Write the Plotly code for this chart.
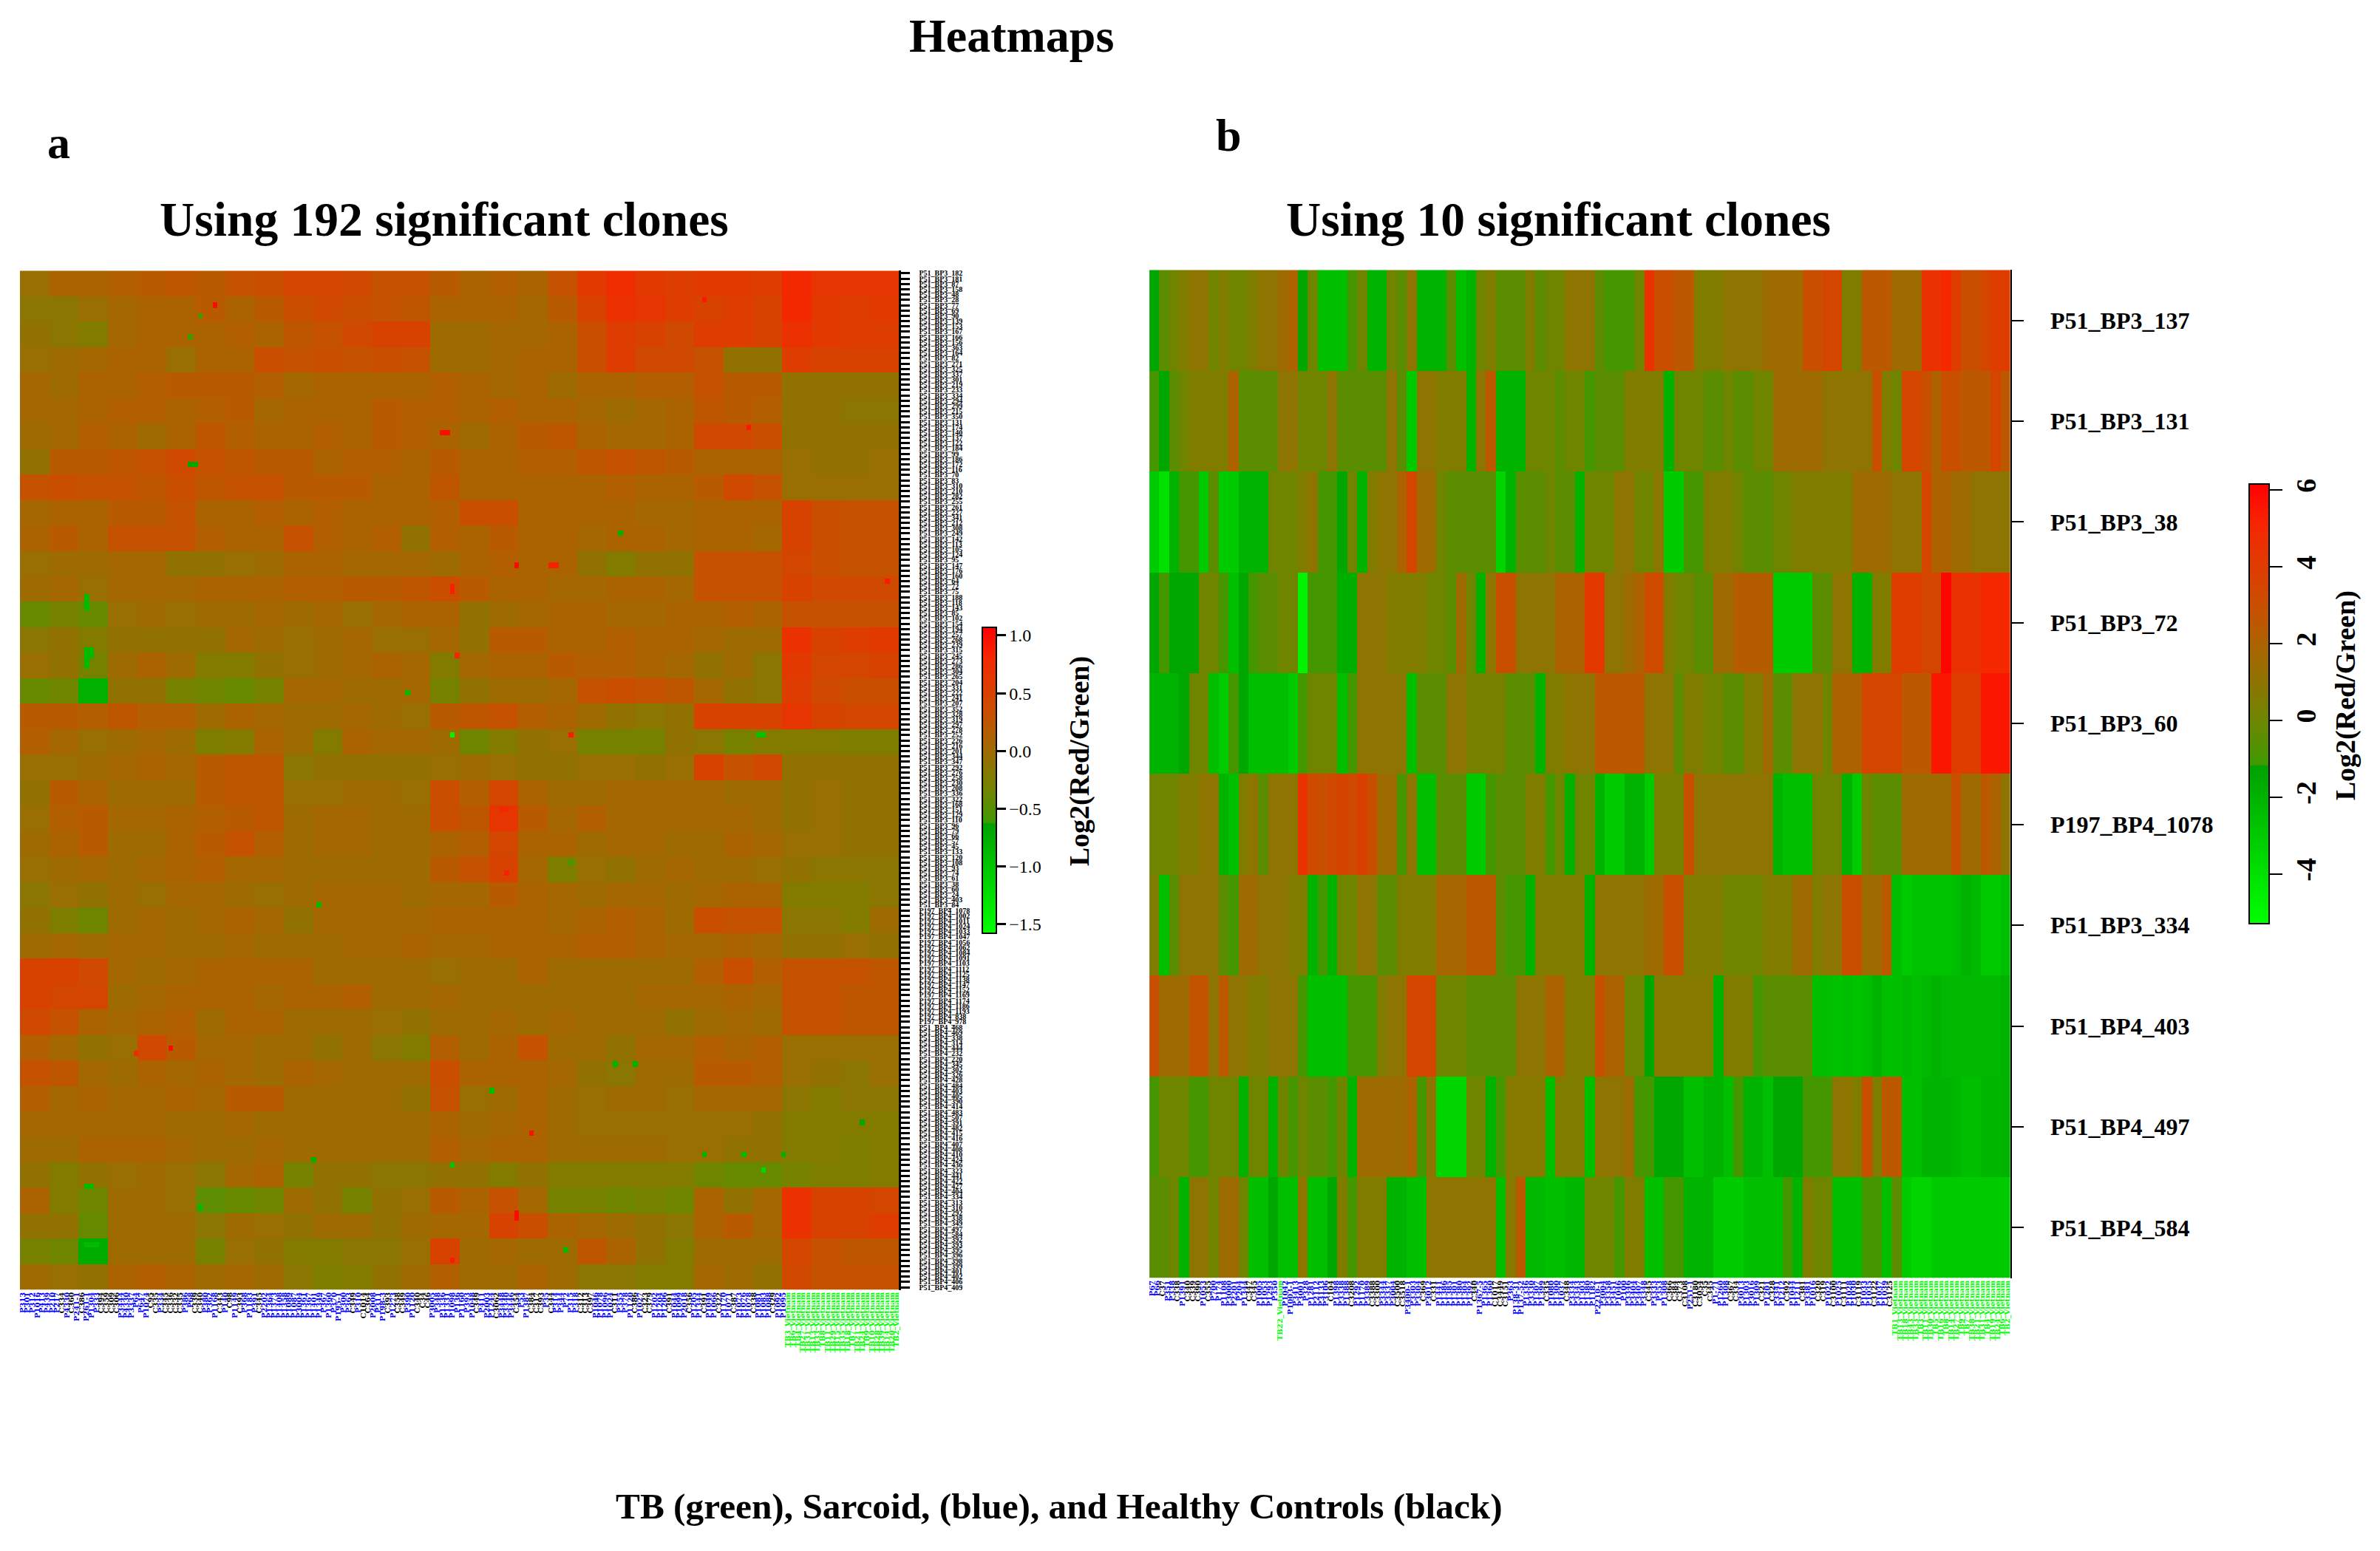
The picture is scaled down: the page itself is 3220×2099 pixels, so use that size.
import plotly.graph_objects as go

W, H = 3220, 2099
SERIF = "Liberation Serif"

clones_b = ["P51_BP3_137","P51_BP3_131","P51_BP3_38","P51_BP3_72","P51_BP3_60",
            "P197_BP4_1078","P51_BP3_334","P51_BP4_403","P51_BP4_497","P51_BP4_584"]

# Panel b: one list per clone
b_137 = [-1.5,-0.5,0,0.5,1,1,0,0.5,0,0,
         0.5,1,1,1.5,2,-1.5,0,-2.5,-2.5,-2.5,
         -1,0,-2,-2,0,-0.5,1,-2,-2,-2,
         -0.5,-2.5,-2,0,0.5,-0.5,-0.5,-0.5,0.5,-0.5,
         0,0,1,1,1,-0.5,-1,-1,-1,0,
         4.5,3,3,2.5,2.5,0.5,0.5,0.5,1,1,
         1,1,1.5,1.5,1.5,1.5,3,3,3.5,3.5,
         0.5,0.5,2.5,2.5,2.5,1.5,1.5,1.5,4.5,4.5,
         5,4,3,3,3.5,4,4]
b_131 = [-1,-1.5,-0.5,0,0.5,0.5,0.5,0.5,2,-0.5,
         -0.5,-0.5,-0.5,1,1,0,0,0,1,-0.5,
         -0.5,-0.5,-0.5,-0.5,1,-0.5,-3,1,1,0.5,
         0.5,0.5,-2,1,2.5,-2,-2,-2,0,0,
         0,-0.5,0,0,-1,-0.5,-0.5,-0.5,0.5,0.5,
         0.5,0.5,-2,0,0,0,-0.5,-0.5,0,-0.5,
         -0.5,0,0,1.5,1.5,1.5,1.5,1.5,1,1,
         1,1,1,3,0.5,0,3.5,3.5,3,2,
         3,3,2.5,2.5,2.5,3.5,2.5]
b_38 = [-3,-4,-2,-1,-1,-3,-0.5,-3,-3,-2,
        -2,-2,0,0,0,0.5,1,-1,-1,-1.5,
        0,-2,0.5,1,1,2,3.5,1.5,1.5,0,
        -0.5,-0.5,-0.5,-0.5,-0.5,-3.5,-2,-0.5,-0.5,-0.5,
        0,-0.5,-0.5,-2,0,0,0,1,1,0,
        0,1,-3,-3,-1,-1,0.5,0.5,0.5,0,
        -0.5,-0.5,-0.5,0,0,0.5,0.5,0.5,0.5,0.5,
        0.5,1.5,1.5,1.5,1.5,1,1,1,3.5,2,
        2,1.5,1.5,1,1,1,1]
b_72 = [-1.5,-1,-1.5,-1.5,-1.5,0,0,-1,-2.5,-1.5,
        -1,-0.5,-0.5,0,0,-4.8,-1,-1,-1,-1.8,
        -1.8,1,1,1,0.5,0.5,0.5,0.5,0,0,
        -0.5,1.5,0,-2,1,3,3,1,1,1,
        1,2,2,2,4.2,4.2,1,1,1.5,2,
        3.2,3.2,0.5,0,0,-0.5,-0.5,1.5,1.5,2.3,
        2.3,2.3,2.3,-3,-3,-3,-3,-0.5,-0.5,1,
        1,-2,-2,0.5,0.5,4,4,4,3.5,3.5,
        6,4.5,4.5,4.5,5,5,5]
b_60 = [-2,-2,-2,-1.5,0,0,-2.5,-3,-1,-1.5,
        -2.5,-2.5,-2.5,-2.5,-3,-1,0,0,0,-2.5,
        -1,1,1,1,1,1,-2.5,-0.5,-0.5,-0.5,
        1,1,0.3,0.3,0.3,0.3,-0.5,-0.5,-0.5,-2,
        0.5,0.5,1,1,1,2.5,2.5,2.5,2.5,2.5,
        1,1,1,-0.5,0.5,0.5,0,0,-0.5,-0.5,
        0.5,0.5,1.5,-0.5,-0.5,1,1,1,0,2,
        2,2,3.5,3.5,3.5,3.5,2.5,2.5,2.5,5.5,
        5.5,4,4,4,5.5,5.5,5.5]
b_1078 = [0,0,0,0.5,0.5,1,1,-2,-2.5,0.5,
          1,-0.5,1,1,1,4.5,3.3,3,3.3,3.6,
          3.3,3.8,3,1.5,1.5,-1,1,-2.5,-2.5,-0.5,
          -0.5,-0.5,-3,-3,-1,-0.5,-0.5,-0.5,0.5,0.5,
          -1,0,-2,0,0,-2,-3,-3,-2,-2,
          -3,0.3,0.3,0.3,3,1,1,1,1,1,
          1,1,1,-2,-2.5,-2.5,-2.5,0,0,0,
          -2,-3,0,-0.5,-0.5,-0.5,1.5,1.5,1.5,1.5,
          1.5,3,1.5,1.5,2.5,2,1]
b_334 = [0.5,-2.5,-0.5,1,1,1,1,-0.5,-1,1.5,
         1.5,1,1,1,0.5,0.5,-2,-1,-2,0,
         0,1,1,-0.5,-0.5,0.5,0.5,0.5,0.5,1.8,
         1.8,1.8,2.5,2.5,2.5,-0.5,-1,-1,-2,0.5,
         0.5,0.5,0.5,0.5,-2,1,1,1,1,1,
         1.5,1.5,3,3,0.5,0.5,0.5,0.5,0,0,
         0,0,0.5,0.5,0.5,1.5,1.5,0.5,1,1,
         3,3,1.5,1.5,2.5,-2.5,-3,-2.7,-2.7,-2.7,
         -2.7,-2.5,-2,-2.3,-3,-3,-2.5]
b_403 = [3,1.5,1.5,1.5,2.8,2.8,1,2.5,1,1,
         0.5,0.5,1,1,1,-1,-2.5,-2.5,-2.5,-2.5,
         -1,-1,-1,0.5,1,1,3.5,3.5,3.5,0,
         0,0,-0.5,-0.5,-0.5,-0.5,-0.5,1,1,1,
         2,2,0.5,0.5,0.5,3,2,2,0,0,
         -1.5,0.7,0.7,0.7,0.7,0.7,0.7,-2,0.5,0.5,
         0.5,-1,-0.5,-0.5,-0.5,-0.5,-0.5,-2.5,-2.5,-2.7,
         -2.5,-2.7,-2.5,-2,-2.5,-2.5,-2.3,-2.5,-2.3,-2,
         -2.3,-2.3,-2.3,-2.3,-2.3,-2.3,-2]
b_497 = [-1,0,0,0,-1,-1,0,0,0,-2,
         0,0,-2,0,-1,0,-0.5,-0.5,-1,0,
         -2,1.5,1.5,1.5,1.5,1.5,2,-1,1,-3.5,
         -3.5,-3.5,0,0,-2,-1,0.7,0.7,0.7,0.7,
         -2.5,0.5,0.5,0.5,-2.5,1,1,1,1.5,-1,
         -1,-1.5,-1.5,-1.5,-2.5,-2.5,-2,-2,-2.5,-1,
         -2,-2,-2.5,-1.5,-1.5,-1.5,-1,-1,-1,1,
         1,0.5,3,0.5,2.5,2.5,-2.5,-2.5,-2,-2,
         -2,-2.2,-2.5,-2.5,-2.2,-2.2,-2]
b_584 = [-0.5,-0.5,0,-2,1,1,0,1.5,1.5,0,
         -2.5,-2.5,-1.5,-2.5,-2.5,1,-2.5,-2.5,-1.5,0.5,
         -1,0.5,0.5,0.5,-2,-2,-2.5,-2.5,1,1,
         1,1,1,1,1,-2.5,0.7,2.5,-2.3,-2.3,
         -2.5,-2.5,-2.2,-2.2,0,0,0,-1,0.5,0.5,
         -2.5,-2.5,-1,-1,-2,-2,-2,-3,-3,-3,
         -2.5,-2.5,-2.5,-2.5,-1,-2,0.5,0,0,-2.5,
         -2.5,-2.5,-1,-1,-2.5,-0.5,-3,-3.5,-3.5,-3,
         -3,-3,-3,-3,-3,-3,-3]

# Panel a: one list per block of clones
a_00 = [-0.05,0.1,0.1,0.15,0.2,0.25,0.2,0.3,0.35,0.45,0.45,0.4,0.3,0.3,0.2,0.1,0.15,0.1,0.3,0.6,0.75,0.6,0.55,0.6,0.6,0.55,0.8,0.65,0.65,0.65]
a_01 = [-0.15,-0.15,-0.05,0.05,0.1,0.1,0.2,0.1,0.2,0.35,0.4,0.35,0.3,0.25,0.1,0.1,0.1,0.05,0.2,0.5,0.7,0.65,0.55,0.5,0.55,0.5,0.8,0.6,0.55,0.6]
a_02 = [-0.1,-0.15,-0.2,0.05,0.1,0.1,0.1,0.15,0.1,0.25,0.3,0.4,0.5,0.5,0,0,0.05,0.05,0.1,0.35,0.55,0.5,0.4,0.55,0.55,0.5,0.7,0.6,0.55,0.55]
a_03 = [-0.05,0,0.05,0.1,0.1,-0.05,0.1,0.1,0.35,0.3,0.35,0.3,0.35,0.3,0,0,0.05,0.1,0.1,0.35,0.55,0.4,0.4,0.3,-0.1,-0.1,0.55,0.5,0.5,0.5]
a_04 = [0.05,0,0.1,0.1,0.15,0.2,0.2,0.2,0.15,0.05,0.1,0.1,0.1,0.1,0.15,0.1,0.05,0.1,0,0.1,0.1,0.15,0.15,0.3,0.2,0.2,-0.1,-0.1,-0.1,-0.1]
a_05 = [0.05,0.05,0.1,0.15,0.15,0.1,0.15,0.2,0.05,0.1,0.1,0.1,0.2,0.15,0.15,0.1,0.15,0.1,0.1,0.05,0,0.05,0.1,0.25,0.2,0.15,-0.1,-0.1,-0.15,-0.15]
a_06 = [0,0.05,0.15,0.1,0,0.1,0.25,0.15,0.1,0.1,0.15,0.1,0.2,0.15,0.1,0,0.1,0.2,0.25,0.1,0.05,0.05,0.1,0.4,0.4,0.35,-0.1,-0.1,-0.1,-0.1]
a_07 = [-0.1,0.2,0.2,0.25,0.3,0.4,0.3,0.25,0.2,0.2,0.1,0.15,0.15,0.1,0.2,0.1,0.1,0.15,0.15,0.25,0.3,0.25,0.2,0.1,0.1,0.1,-0.05,-0.1,-0.1,-0.05]
a_08 = [0.3,0.35,0.3,0.3,0.25,0.35,0.25,0.3,0.3,0.2,0.2,0.2,0.1,0.1,0.25,0.1,0.1,0.1,0.1,0.1,0.15,0.1,0.1,0.2,0.4,0.3,-0.05,-0.05,-0.05,-0.05]
a_09 = [0.05,0.1,0.1,0.2,0.2,0.3,0.1,0.1,0.15,0.1,0.15,0.1,0.1,0.1,0.15,0.35,0.35,0.1,0.1,0.1,0.1,0.05,0.05,0.1,0.1,0.1,0.5,0.35,0.3,0.3]
a_10 = [0.1,0.2,0.1,0.3,0.3,0.3,0.15,0.1,0.1,0.3,0.15,0.1,0.15,-0.1,0.15,0.1,0.2,0.1,0.1,0.05,0.1,0.1,0.05,0.1,0.1,0.05,0.5,0.35,0.3,0.3]
a_11 = [-0.05,0,0,0.05,0.05,-0.1,-0.1,-0.05,0,0.1,0.1,0.05,0.05,0.05,0,0.1,0.15,0.1,0.1,-0.1,-0.2,-0.1,-0.1,0.3,0.3,0.3,0.45,0.35,0.3,0.3]
a_12 = [0,0.05,-0.05,0.05,0.05,0.05,0.1,0.1,0.1,0.15,0.15,0.2,0.2,0.25,0.35,0.2,0.1,0.1,0.05,0.05,0.1,0.1,0.05,0.3,0.3,0.3,0.5,0.4,0.4,0.4]
a_13 = [-0.4,-0.3,-0.4,-0.05,0,-0.05,0,0,0.05,0,0.05,-0.05,0.05,0.1,0.1,-0.1,0,0.05,0.1,0.1,0.05,0.05,0.1,0.1,0.15,0.1,0.3,0.3,0.3,0.3]
a_14 = [-0.15,-0.1,-0.2,-0.1,-0.1,-0.1,-0.1,0.05,0,-0.05,0,0.05,-0.05,-0.05,0.05,-0.1,0.2,0.2,0.1,0.1,0.15,0.1,0.1,0.05,0,0,0.7,0.5,0.55,0.6]
a_15 = [-0.05,-0.1,-0.3,0,0.1,0,-0.2,-0.2,-0.1,-0.05,0,0.05,0.1,0.05,-0.2,0.05,0.1,0.1,0.2,0.15,0.15,0.1,0.05,-0.1,0,-0.15,0.6,0.45,0.45,0.5]
a_16 = [-0.4,-0.35,-0.8,-0.1,-0.1,-0.3,-0.35,-0.4,-0.3,0.05,0.05,0,0,0.05,-0.3,-0.1,0,0,0.05,0.3,0.35,0.3,0.25,0.05,-0.1,-0.15,0.55,0.4,0.35,0.35]
a_17 = [0.2,0.2,0.15,0.25,0.15,0.15,0,0.1,0.05,0,0,0.05,0,-0.05,0.2,0.25,0.3,0.15,0.1,0,-0.1,-0.15,-0.1,0.5,0.5,0.5,0.65,0.5,0.45,0.45]
a_18 = [0.15,0.05,-0.05,0,0.05,0,-0.25,-0.2,0.1,0,-0.2,0.1,0.05,0.05,0,-0.35,-0.2,-0.1,-0.05,-0.3,-0.3,-0.3,-0.1,-0.15,-0.3,-0.2,-0.2,-0.2,-0.25,-0.25]
a_19 = [-0.05,-0.05,0,0.05,0.1,0.05,0.2,0.25,0.25,-0.15,-0.1,-0.1,-0.1,-0.1,-0.05,0,-0.05,-0.1,-0.1,-0.05,-0.05,-0.1,-0.05,0.5,0.3,0.4,-0.1,-0.1,-0.1,-0.1]
a_20 = [-0.1,0.2,0.1,0,0,0,0.2,0.25,0.25,-0.05,-0.05,0,0,-0.05,0.35,0.15,0.45,0.1,0,0,0.05,0.05,0.05,0.05,0,0,-0.1,-0.05,-0.1,-0.1]
a_21 = [-0.05,0.15,0.2,0.05,0.05,0.1,0.15,0.2,0.25,0,0.05,0.05,0,0,0.35,0.25,0.65,0.2,0.05,0.15,0.05,0.05,0.05,0.05,0.05,0,-0.1,-0.05,-0.1,-0.1]
a_22 = [0,0.1,0.2,0,0,0.1,0.2,0.3,0.15,0,0.05,0.05,0,0,0.1,0.15,0.45,0.1,0.1,0,0.05,0.05,0,0,0.1,0.05,-0.05,-0.05,-0.1,-0.1]
a_23 = [-0.05,0,0.05,0,0.05,0.1,0.15,0.05,0.05,0,0,0,0,0,0.2,0.3,0.5,0.05,-0.25,-0.05,-0.1,0,0.05,0,0,-0.05,-0.1,-0.15,-0.15,-0.15]
a_24 = [-0.15,-0.05,-0.1,0,-0.05,0.05,0.05,0,-0.05,0,0.05,0.05,0.05,0,0.05,0.05,0.2,0.1,0.05,0,0.05,0.05,0,0.05,0.1,0.1,-0.2,-0.2,-0.2,-0.15]
a_25 = [-0.1,-0.25,-0.35,0,0.05,0,0.05,0.1,0.05,-0.1,0.05,0.05,0.05,0.05,0.1,0.1,0.1,0.1,0.05,0.1,0.15,0.1,0,0.35,0.3,0.3,-0.15,-0.15,-0.2,0]
a_26 = [0,0.05,0,0.05,0.05,0,0,0.05,0,0,0,0.05,0.05,0.1,0.05,0.05,0.1,0.1,0.1,0.15,0.15,0.1,0.05,0.05,0.1,0.05,-0.1,-0.1,-0.05,-0.1]
a_27 = [0.5,0.5,0.4,0.05,0,0.05,0.1,0.1,0.1,0.1,0,0,0,0,-0.05,0,0,0.1,0,0,0,0,0,0.15,0.35,0.15,0.3,0.3,0.3,0.25]
a_28 = [0.5,0.45,0.45,0,0.05,0.1,0.1,0.1,0.05,0.1,0.1,0.15,0,0,0.05,0,0,0,0,0,0,0.05,0.05,0.05,0.1,0.05,0.3,0.3,0.25,0.25]
a_29 = [0.4,0.3,0.1,0.05,0.1,0.15,0,0.1,0.1,0,0,0,-0.05,-0.1,0,0,0.05,0,0.05,0,0,0,-0.1,0,0.05,0,0.3,0.3,0.25,0.25]
a_30 = [0.15,0.05,-0.1,-0.05,0.4,0.2,0.05,0.05,0,0,-0.1,0,-0.15,-0.2,0.15,0,0.1,0.3,0,0,-0.1,0.05,0.05,0.15,0.1,0.15,-0.05,-0.05,-0.05,-0.05]
a_31 = [0.3,0.25,0.05,0,0.1,0.05,0.1,0.05,0,0.1,0.05,0,0,0,0.35,0.1,0.1,0.1,0.05,-0.1,-0.15,0,0,0.2,0.2,0.15,-0.05,-0.1,-0.15,-0.05]
a_32 = [0.15,0.05,0.1,0.05,0.05,0.1,0.05,0.2,0.2,0,0,0,0,-0.1,0.3,-0.05,0,0.1,0,-0.05,0,0,-0.05,0.05,0.05,0.05,-0.15,-0.2,-0.15,-0.15]
a_33 = [0.05,0.05,0.05,0.05,0.05,0,0,0.05,0,0,0,0,0,0,0.1,0,0.05,0.1,0,-0.05,-0.05,-0.05,-0.05,-0.05,-0.05,-0.1,-0.2,-0.2,-0.2,-0.2]
a_34 = [0,0,0.1,0.1,0.1,0.05,0,0,0.05,0,0,0,0,0,0.15,0.05,0.1,0.1,0,0,0,0,-0.05,-0.05,-0.1,-0.1,-0.2,-0.2,-0.25,-0.2]
a_35 = [-0.1,-0.2,-0.1,-0.05,0,-0.05,-0.15,0.05,0.1,-0.3,-0.1,-0.1,-0.15,-0.15,-0.1,-0.1,-0.2,-0.1,-0.2,-0.2,-0.2,-0.2,-0.2,-0.35,-0.4,-0.4,-0.3,-0.25,-0.25,-0.2]
a_36 = [0.1,-0.2,-0.35,0,0,-0.05,-0.45,-0.4,-0.35,0,-0.1,-0.3,-0.1,-0.05,0.2,0.1,0.3,0.05,-0.3,-0.3,-0.35,-0.3,-0.35,0.1,-0.1,0.05,0.7,0.5,0.5,0.45]
a_37 = [-0.1,-0.1,-0.4,0,0,0,-0.15,0,-0.05,-0.1,0,0,-0.1,0,0.05,0.05,0.5,0.35,0.1,0.05,0,-0.1,-0.15,0.1,0.2,0.05,0.7,0.5,0.5,0.55]
a_38 = [-0.3,-0.35,-0.75,0,0,0,-0.3,-0.05,-0.1,-0.2,-0.2,-0.15,-0.15,-0.05,0.5,0,0.05,0,0,0.25,0.1,-0.1,-0.2,0,0,0,0.45,0.3,0.25,0.25]
a_39 = [0,-0.05,-0.1,0.1,0.15,0.1,0,0.05,0,-0.15,-0.25,-0.2,-0.1,0,0.15,0,0,0.1,0,-0.15,-0.15,-0.2,-0.2,0.05,0,-0.1,0.4,0.3,0.3,0.3]

# Panel a: single cells that stand out from their block (clone index, sample index, value)
spot_rows = [30,30,87,61,62,63,71,72,73,74,71,72,36,36,6,59,60,55,55,55,49,87,87,58,5,79,72,87,12,8,29,
             169,149,149,166,166,166,177,178,176,183,183,183,172,172,186,168,154,167,162,146,147,111,101,101,113,119,184,160]
spot_cols = [85,86,87,13,13,13,13,13,13,13,14,14,34,35,39,87,87,100,107,108,121,149,150,175,138,78,88,111,34,36,147,
             150,120,124,138,146,154,100,100,36,13,14,15,13,14,87,87,95,59,103,30,23,111,97,98,98,60,110,170]
spot_vals = [1.0,1.0,-1.5,-0.9,-0.9,-0.9,-0.9,-0.9,-0.9,-0.9,-0.9,-0.9,-0.7,-0.7,1.0,0.85,0.85,1.0,0.85,0.85,-0.8,-1.0,-1.0,0.9,0.9,-0.9,0.8,0.9,-0.6,-0.6,0.9,
             -1.2,-0.8,-0.8,-0.8,-0.9,-0.8,1.0,1.0,-0.9,-0.9,-0.9,-0.9,-0.9,-0.9,0.9,-1.0,-0.9,-0.8,0.95,1.0,0.8,-0.6,0.8,0.8,0.85,-0.9,-0.9,-0.7]

clones_a = """182 181 87 158 48 28 77 69 90 139 153 167 166 156 363 164 82 271 325 337
301 219 233 334 294 299 215 350 131 174 140 137 122 184 99 186 172 116 70 83
310 210 282 255 261 227 341 212 308 249 142 113 105 124 95 147 176 160 64 72
75 188 118 143 85 102 154 194 257 268 239 315 245 273 286 304 265 204 331 222
241 207 352 328 319 297 278 252 226 216 201 344 347 292 276 258 230 208 336 322
168 151 129 110 96 79 66 57 45 133 120 108 93 74 61 38 60 24 403 84""".split()
clones_a = ["P51_BP3_" + c for c in clones_a]
clones_a += ["P197_BP4_" + c for c in """1078 1002 1011 1024 1033 1047 1056 1062 1084 1091 1103 1112 1125 1138
1147 1152 1169 1174 1186 1193 838 978""".split()]
clones_a += ["P51_BP4_" + c for c in """468 469 338 314 444 232 220 345 302 326 428 484 403 405 390 414 483 507
391 482 415 416 407 408 410 424 436 323 441 422 427 404 334 313 310 292 338 349 497 584
392 393 395 396 398 399 401 402 406 409""".split()]

samples_a = """P313 P301 P312 P1016 P413 P439 P210 P217 C334 P4330
C360 P241-1 C386 P261-1 P1304 P333 C394 C359 C309 C306
P3444 P4330 P3337 P64 P647 P1074 C95 C335 P334 C345
C336 C332 C335 P386 P68 C339 C340 P380 P362 P1168
C343 P140 C98 P1149 C393 P368 P1183 P391 C345 P2202
P1364 P1373 P1408 P1358 P1089 P1087 P3004 P1361 P1367 P1401
P1349 P367 P1360 P370 P195-1 P300 P363 C349 P310 C1014
C364 P2008 P311 P198-3 C393 P1273 C358 C349 P390 P1120
C340 C34 C46 P3005 P348 P1336 P1331 P1098 P136 P1160
P393 P1048 C349 P411 P2003 P1244 C3062 P3448 P3340 P3446
C354 P53 P1387 C384 C317 C393 P35 C344 P314 P344
P72 P315 P318 C312 C313 C397 P1046 P1078 P1096 P1024
C311 P355 P378 P1120 C386 P1027 C323 C379 P1202 P1204
P1206 C391 P1044 P1099 P2018 C356 P1205 P1344 C391 P1049
P1066 C322 P1170 P1071 C387 P1073 P1076 P1078 C338 P1081
P1083 P1088 C329 P1092 P1095
TB3_Vietnam TB6_Vietnam TB4_Vietnam TB27_Vietnam TB31_Vietnam TB13_Vietnam TB33_Vietnam TB8_Vietnam TB11_Vietnam TB29_Vietnam
TB15_Vietnam TB35_Vietnam TB18_Vietnam TB7_Vietnam TB21_Vietnam TB24_Vietnam TB9_Vietnam TB10_Vietnam TB28_Vietnam TB39_Vietnam
TB14_Vietnam TB20_Vietnam TB2_Vietnam""".split()
samples_b = """P67 P66 C37 P351 P338 C338 P1391 C340 C339 C390
P1053 C355 P700 P174 P1108 P3000 P2201 P204 P1344 C347
C345 P1005 P1053 P1293 P350 TB22_Vietnam P1042 P1003-1 P3413 P3001
P328 P1281 P2112 P3133 P3106 C104 P1398 P3338 P1388 C3208
P1292 P1170 P3389 C3388 C3300 P3344 P3337 P3004 C3500 C3518
P3400-1 P3303 P3304 C369 P3012 C331 P1441 P1386 P1385 P1301
P1380 P1304 P1392 C340 P1367-5 P1365 P1360 C1017 C3449 C3151
P363 P138-31 P137-52 P1336 P3330 P1307 P1399 C335 P1080 P1300
P1037 C348 P3334 P3343 P1303 P1380 P1182 P2210-1 P3004 P3358
P3451 P1046 P100 P3346 P3404 P3407 P3348 C345 P3333 P353
P1308 C366 C384 C373 C3108 P251-1 C3180 C3054 C35 C345
P1-71 P1260 P1308 C367 C334 P3013 P1303 P3016 P1309 C321
P1201 C328 P3341 P1212 C392 P1044 P1211 C381 P3381 P1016
C320 C319 P1022 C3100 P1025 C3111 P1028 P1030 C3119 P1033
P1035 C3122 P1037 P1039 C3125
TB1_Vietnam TB13_Vietnam TB18_Vietnam TB43_Vietnam TB33_Vietnam TB3_Vietnam TB11_Vietnam TB30_Vietnam TB5_Vietnam TB16_Vietnam
TB8_Vietnam TB14_Vietnam TB27_Vietnam TB9_Vietnam TB7_Vietnam TB38_Vietnam TB21_Vietnam TB31_Vietnam TB4_Vietnam TB19_Vietnam
TB24_Vietnam TB6_Vietnam TB2_Vietnam""".split()

ticks_a = [-1.5, -1.0, -0.5, 0.0, 0.5, 1.0]
ticklabels_a = ["\u22121.5", "\u22121.0", "\u22120.5", "0.0", "0.5", "1.0"]
ticks_b = [-4, -2, 0, 2, 4, 6]
ticklabels_b = ["-4", "-2", "0", "2", "4", "6"]
z_limits_a = (-1.577, 1.07)
z_limits_b = (-5.3, 6.15)

z_a = [a_00,a_01,a_02,a_03,a_04,a_05,a_06,a_07,a_08,a_09,
       a_10,a_11,a_12,a_13,a_14,a_15,a_16,a_17,a_18,a_19,
       a_20,a_21,a_22,a_23,a_24,a_25,a_26,a_27,a_28,a_29,
       a_30,a_31,a_32,a_33,a_34,a_35,a_36,a_37,a_38,a_39]
z_b = [b_137,b_131,b_38,b_72,b_60,b_1078,b_334,b_403,b_497,b_584]

CS = [[0, "#00ff00"], [0.358, "#00a000"], [0.362, "#3f9a00"], [0.463, "#6f8500"],
      [0.6, "#a06a00"], [0.72, "#c85000"], [0.9, "#f52800"], [1, "#ff0000"]]

def colored(s):
    c = "#00ff00" if s.startswith("TB") else ("#000000" if s.startswith("C") else "#0000ff")
    return f'<span style="color:{c}">{s}</span>'

def centers(n_cells, n_units):
    return [(i + 0.5) * n_units / n_cells for i in range(n_cells)]

n_a, n_b = len(samples_a), len(samples_b)
spots = [[None] * n_a for _ in clones_a]
for r, c, v in zip(spot_rows, spot_cols, spot_vals):
    spots[r][c] = v

fig = go.Figure()
fig.add_trace(go.Heatmap(
    z=z_a, x=centers(len(z_a[0]), n_a), y=centers(len(z_a), len(clones_a)),
    xaxis="x", yaxis="y", colorscale=CS, zmin=z_limits_a[0], zmax=z_limits_a[1], hoverinfo="skip",
    colorbar=dict(x=1329/W, xanchor="left", xpad=0, y=1-1056/H, yanchor="middle", ypad=0,
                  lenmode="pixels", len=414, thicknessmode="pixels", thickness=19,
                  outlinewidth=2, outlinecolor="black", tickvals=ticks_a, ticktext=ticklabels_a,
                  ticks="outside", ticklen=12, tickwidth=3, tickcolor="black",
                  tickfont=dict(family=SERIF, size=24, color="black"))))
fig.add_trace(go.Heatmap(
    z=spots, x=centers(n_a, n_a), y=centers(len(clones_a), len(clones_a)),
    xaxis="x", yaxis="y", colorscale=CS, zmin=z_limits_a[0], zmax=z_limits_a[1], hoverinfo="skip",
    showscale=False))
fig.add_trace(go.Heatmap(
    z=z_b, x=centers(len(z_b[0]), n_b), y=clones_b,
    xaxis="x2", yaxis="y2", colorscale=CS, zmin=z_limits_b[0], zmax=z_limits_b[1], hoverinfo="skip",
    colorbar=dict(x=3045/W, xanchor="left", xpad=0, y=1-952.5/H, yanchor="middle", ypad=0,
                  lenmode="pixels", len=595, thicknessmode="pixels", thickness=27,
                  outlinewidth=2, outlinecolor="black", tickvals=ticks_b, ticktext=ticklabels_b, tickangle=-90,
                  ticks="outside", ticklen=17, tickwidth=2, tickcolor="black",
                  tickfont=dict(family=SERIF, size=38, color="black", weight="bold"))))

def ann(text, x, y, size, angle=0):
    return dict(text=f"<b>{text}</b>", x=x/W, y=1-y/H, xref="paper", yref="paper", showarrow=False,
                xanchor="center", yanchor="middle", textangle=angle,
                font=dict(family=SERIF, size=size, color="black"))

fig.update_layout(
    width=W, height=H, margin=dict(l=0, r=0, t=0, b=0), paper_bgcolor="white", plot_bgcolor="white",
    showlegend=False,
    xaxis=dict(domain=[25/W, 1216/W], range=[0, n_a], anchor="y", tickmode="array",
               tickvals=[i + 0.5 for i in range(n_a)], ticktext=[colored(s) for s in samples_a],
               tickangle=-90, ticks="", tickfont=dict(family="DejaVu Serif", size=10, weight="bold"),
               showgrid=False, zeroline=False),
    yaxis=dict(domain=[1-1747/H, 1-365/H], range=[len(clones_a), 0], anchor="x", side="right",
               tickmode="array", tickvals=[i + 0.5 for i in range(len(clones_a))], ticktext=clones_a,
               ticks="outside", ticklen=12, tickwidth=3, tickcolor="black", showline=True, linewidth=3,
               linecolor="black", ticklabelstandoff=10,
               tickfont=dict(family=SERIF, size=10, color="black", weight="bold"),
               showgrid=False, zeroline=False),
    xaxis2=dict(domain=[1555/W, 2721/W], range=[0, n_b], anchor="y2", tickmode="array",
                tickvals=[i + 0.5 for i in range(n_b)], ticktext=[colored(s) for s in samples_b],
                tickangle=-90, ticks="", tickfont=dict(family="DejaVu Serif", size=10, weight="bold"),
                showgrid=False, zeroline=False),
    yaxis2=dict(domain=[1-1731/H, 1-364/H], autorange="reversed", anchor="x2", side="right", type="category",
                ticks="outside", ticklen=16, tickwidth=2, tickcolor="black", showline=True, linewidth=2,
                linecolor="black", ticklabelstandoff=30,
                tickfont=dict(family=SERIF, size=32, color="black", weight="bold"),
                showgrid=False, zeroline=False),
    annotations=[
        ann("Heatmaps", 1368, 47, 64),
        ann("a", 78, 191, 62),
        ann("b", 1662, 181, 62),
        ann("Using 192 significant clones", 600, 296, 65.5),
        ann("Using 10 significant clones", 2109, 296, 65.5),
        ann("Log2(Red/Green)", 1460, 1030, 38, -90),
        ann("Log2(Red/Green)", 3175, 941, 38, -90),
        ann("TB (green), Sarcoid, (blue), and Healthy Controls (black)", 1433, 2040, 49.3),
    ])

fig.write_html("out.html", post_script="document.body.style.margin='0';", config={"displayModeBar": False})
